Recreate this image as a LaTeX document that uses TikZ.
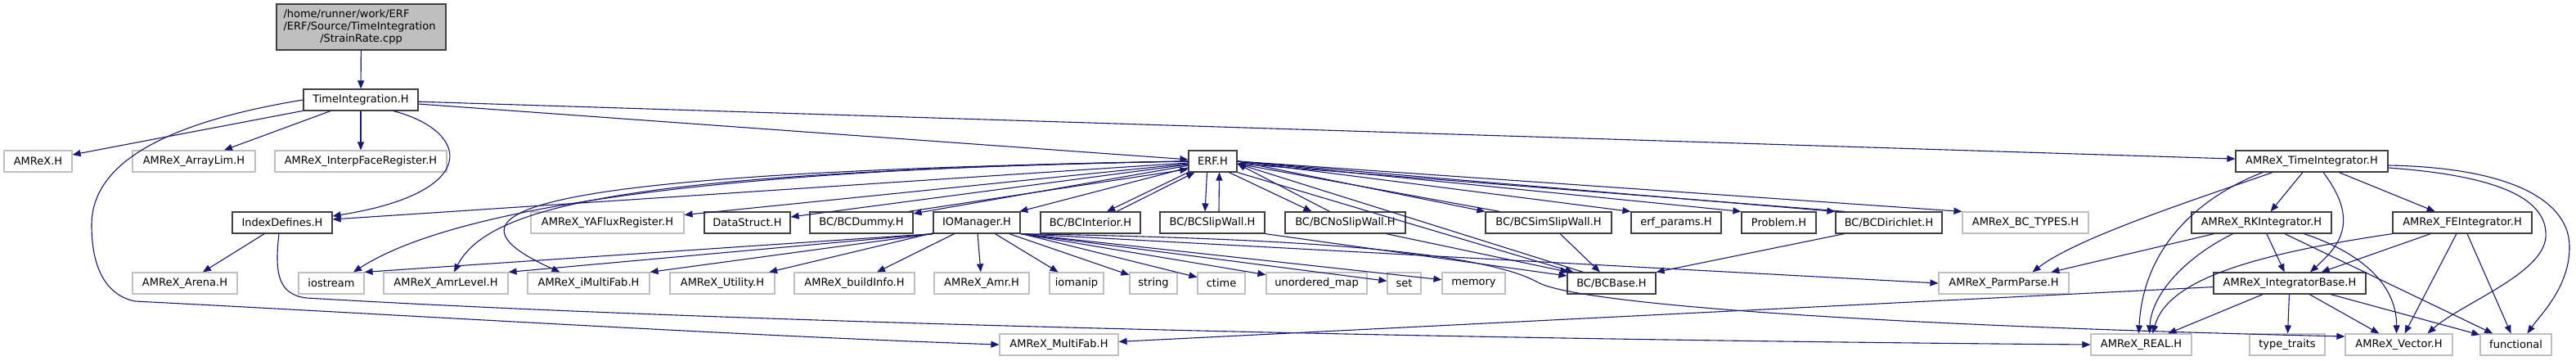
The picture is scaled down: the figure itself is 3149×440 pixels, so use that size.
\documentclass[tikz,border=0pt]{standalone}
\usepackage{fontspec}
\setmainfont{DejaVu Sans}
\usepackage{tikz}
\usetikzlibrary{arrows.meta}
\definecolor{edgeblue}{RGB}{25,25,112}
\definecolor{extgray}{RGB}{191,191,191}
\definecolor{docgray}{RGB}{64,64,64}

\begin{document}
\begin{tikzpicture}[x=1pt, y=-1pt,
  n/.style={draw=docgray, line width=1.2pt, fill=white, font=\fontsize{13}{15}\selectfont, minimum height=26pt, inner xsep=2pt, inner ysep=0pt},
  ext/.style={n, draw=extgray},
  dep/.style={draw=edgeblue, line width=1.1pt, ->},
  >={Triangle[length=10pt, width=8pt]}]
\useasboundingbox (0,0) rectangle (3149,440);
\node[n, fill=extgray, minimum width=207pt, minimum height=56pt, text width=190pt, align=left] (root) at (441.5,33) {/home/runner/work/ERF\\/ERF/Source/TimeIntegration\\\makebox[190pt]{/StrainRate.cpp}};
\node[n, minimum width=140pt] (ti) at (441,122) {TimeIntegration.H};
\node[ext, minimum width=83pt] (amrex) at (46.5,197) {AMReX.H};
\node[ext, minimum width=150pt] (arraylim) at (237,197) {AMReX\_ArrayLim.H};
\node[ext, minimum width=210pt] (interp) at (441,197) {AMReX\_InterpFaceRegister.H};
\node[n, minimum width=59pt] (erf) at (1482.5,197) {ERF.H};
\node[n, minimum width=186pt] (tint) at (2826,197) {AMReX\_TimeIntegrator.H};
\node[n, minimum width=122pt] (idx) at (345,272) {IndexDefines.H};
\node[ext, minimum width=187pt] (yaflux) at (742.5,272) {AMReX\_YAFluxRegister.H};
\node[n, minimum width=105pt] (dstruct) at (913.5,272) {DataStruct.H};
\node[n, minimum width=126pt] (bcdummy) at (1053,272) {BC/BCDummy.H};
\node[n, minimum width=106pt] (iom) at (1194,272) {IOManager.H};
\node[n, minimum width=122pt] (bcint) at (1333,272) {BC/BCInterior.H};
\node[n, minimum width=128pt] (bcslip) at (1482,272) {BC/BCSlipWall.H};
\node[n, minimum width=147pt] (bcnoslip) at (1644.5,272) {BC/BCNoSlipWall.H};
\node[n, minimum width=154pt] (bcsim) at (1893,272) {BC/BCSimSlipWall.H};
\node[n, minimum width=110pt] (erfp) at (2049,272) {erf\_params.H};
\node[n, minimum width=91pt] (prob) at (2174.5,272) {Problem.H};
\node[n, minimum width=130pt] (bcdir) at (2309,272) {BC/BCDirichlet.H};
\node[ext, minimum width=154pt] (bctypes) at (2476,272) {AMReX\_BC\_TYPES.H};
\node[n, minimum width=171pt] (rk) at (2764.5,272) {AMReX\_RKIntegrator.H};
\node[n, minimum width=170pt] (fe) at (3010,272) {AMReX\_FEIntegrator.H};
\node[ext, minimum width=128pt] (arena) at (226,346) {AMReX\_Arena.H};
\node[ext, minimum width=80pt] (iostream) at (405,346) {iostream};
\node[ext, minimum width=152pt] (amrlevel) at (545,346) {AMReX\_AmrLevel.H};
\node[ext, minimum width=149pt] (imf) at (719.5,346) {AMReX\_iMultiFab.H};
\node[ext, minimum width=128pt] (util) at (883,346) {AMReX\_Utility.H};
\node[ext, minimum width=147pt] (binfo) at (1044.5,346) {AMReX\_buildInfo.H};
\node[ext, minimum width=116pt] (amr) at (1200,346) {AMReX\_Amr.H};
\node[ext, minimum width=66pt] (iomanip) at (1316,346) {iomanip};
\node[ext, minimum width=58pt] (string) at (1410,346) {string};
\node[ext, minimum width=58pt] (ctime) at (1493,346) {ctime};
\node[ext, minimum width=123pt] (umap) at (1609.5,346) {unordered\_map};
\node[ext, minimum width=41pt] (set) at (1716.5,346) {set};
\node[ext, minimum width=77pt] (memory) at (1801.5,346) {memory};
\node[n, minimum width=108pt] (bcbase) at (1970,346) {BC/BCBase.H};
\node[ext, minimum width=159pt] (pparse) at (2449.5,346) {AMReX\_ParmParse.H};
\node[n, minimum width=186pt] (ibase) at (2799,346) {AMReX\_IntegratorBase.H};
\node[ext, minimum width=145pt] (mfab) at (1294.5,421) {AMReX\_MultiFab.H};
\node[ext, minimum width=123pt] (real) at (2617.5,421) {AMReX\_REAL.H};
\node[ext, minimum width=92pt] (ttraits) at (2796,421) {type\_traits};
\node[ext, minimum width=131pt] (vector) at (2932.5,421) {AMReX\_Vector.H};
\node[ext, minimum width=87pt] (func) at (3075.5,421) {functional};
\draw[dep] (root) -- (ti);
\draw[dep] (ti) -- (amrex);
\draw[dep] (ti) -- (arraylim);
\draw[dep] (ti) -- (interp);
\draw[dep] ([xshift=40pt]ti.south) .. controls (575,160) and (590,235) .. ([yshift=8pt]idx.east);
\draw[dep] (ti) -- (erf);
\draw[dep] (ti) -- (tint);
\draw[dep] (ti.west) .. controls (200,150) and (112,200) .. (112,275) .. controls (112,335) and (135,362) .. (165,368) .. controls (500,385) and (900,410) .. (mfab.west);
\draw[dep] (erf) -- (idx);
\draw[dep] (erf) -- (yaflux);
\draw[dep] (erf) -- (dstruct);
\draw[dep] (erf) -- (bcdummy);
\draw[dep] ([xshift=-6pt]bcdummy.north east) -- ([yshift=4pt]erf.south west);
\draw[dep] (erf) -- (iom);
\draw[dep] (erf.south west) -- ([xshift=20pt]bcint.north);
\draw[dep] ([xshift=32pt]bcint.north) -- ([xshift=8pt]erf.south west);
\draw[dep] ([xshift=-7pt]erf.south) -- ([xshift=-9pt]bcslip.north);
\draw[dep] ([xshift=8pt]bcslip.north) -- ([xshift=8pt]erf.south);
\draw[dep] (erf.west) .. controls (900,205) and (560,250) .. ([xshift=27pt]iostream.north);
\draw[dep] (erf.west) .. controls (800,210) and (600,245) .. ([xshift=10pt]amrlevel.north);
\draw[dep] (erf.west) .. controls (700,210) and (500,250) .. ([xshift=-35pt]imf.north);
\draw[dep] ([xshift=20pt]erf.south) -- ([xshift=-41pt]bcnoslip.north);
\draw[dep] ([xshift=-19pt]bcnoslip.north) -- ([yshift=-3pt]erf.east);
\draw[dep] (erf.east) -- (bcsim.north west);
\draw[dep] ([xshift=18pt]bcsim.north west) -- ([yshift=-3pt]erf.east);
\draw[dep] (erf.east) -- (erfp.north west);
\draw[dep] (erf.east) -- (prob.north west);
\draw[dep] (erf.east) -- (bcdir.north west);
\draw[dep] ([xshift=12pt]bcdir.north west) -- ([yshift=-3pt]erf.east);
\draw[dep] (erf.east) -- (bctypes.north west);
\draw[dep] (erf.south east) -- ([xshift=8pt]bcbase.north west);
\draw[dep] ([xshift=20pt]bcbase.north west) -- ([yshift=-3pt]erf.east);
\draw[dep] (iom.south west) -- (iostream.north east);
\draw[dep] (iom.south west) -- (amrlevel.north east);
\draw[dep] (iom.south west) -- (imf.north east);
\draw[dep] (iom) -- (util);
\draw[dep] (iom) -- (binfo);
\draw[dep] (iom) -- (amr);
\draw[dep] (iom) -- (iomanip);
\draw[dep] (iom) -- (string);
\draw[dep] (iom) -- (ctime);
\draw[dep] (iom.south east) -- (umap);
\draw[dep] (iom.south east) -- (set);
\draw[dep] (iom.south east) -- (memory);
\draw[dep] (iom.south east) -- (pparse.west);
\draw[dep] (iom.south east) .. controls (1500,290) and (1800,300) .. (1880,345) .. controls (1930,372) and (2300,398) .. ([yshift=10pt]vector.west);
\draw[dep] (idx) -- (arena);
\draw[dep] ([xshift=-4pt]idx.south) .. controls (336,330) and (338,360) .. (375,364) .. controls (900,395) and (1800,415) .. (real.west);
\draw[dep] (bcslip.south east) -- ([yshift=9pt]bcbase.west);
\draw[dep] ([xshift=50pt]bcnoslip.south) -- ([xshift=2pt]bcbase.north west);
\draw[dep] (bcsim) -- (bcbase);
\draw[dep] ([xshift=11pt]bcdir.south west) -- (bcbase.north east);
\draw[dep] ([xshift=-48pt]tint.south) .. controls (2680,245) and (2540,290) .. ([xshift=35pt]pparse.north);
\draw[dep] ([xshift=-60pt]tint.south) .. controls (2690,240) and (2620,300) .. ([xshift=-3pt]real.north);
\draw[dep] (tint) -- (rk);
\draw[dep] ([xshift=14pt]tint.south) .. controls (2885,270) and (2860,300) .. ([xshift=25pt]ibase.north);
\draw[dep] (tint) -- (fe);
\draw[dep] ([yshift=-8pt]tint.east) .. controls (3060,215) and (3115,245) .. (3112,290) .. controls (3108,335) and (3010,370) .. ([xshift=35pt]vector.north);
\draw[dep] ([yshift=-5pt]tint.east) .. controls (3080,205) and (3140,250) .. (3141,300) .. controls (3142,350) and (3105,385) .. ([xshift=14pt]func.north);
\draw[dep] (rk) -- (pparse);
\draw[dep] ([xshift=-35pt]rk.south) .. controls (2670,315) and (2630,360) .. ([xshift=10pt]real.north);
\draw[dep] (rk) -- (ibase);
\draw[dep] ([xshift=52pt]rk.south) .. controls (2890,310) and (2930,350) .. ([xshift=-3pt]vector.north);
\draw[dep] (rk) -- (func);
\draw[dep] (fe.south west) .. controls (2760,310) and (2650,340) .. ([xshift=14pt]real.north);
\draw[dep] (fe) -- (ibase);
\draw[dep] (fe) -- (vector);
\draw[dep] (fe) -- (func);
\draw[dep] (ibase) -- (mfab);
\draw[dep] (ibase) -- (real);
\draw[dep] (ibase) -- (ttraits);
\draw[dep] (ibase) -- (vector);
\draw[dep] (ibase) -- (func);
\end{tikzpicture}
\end{document}
